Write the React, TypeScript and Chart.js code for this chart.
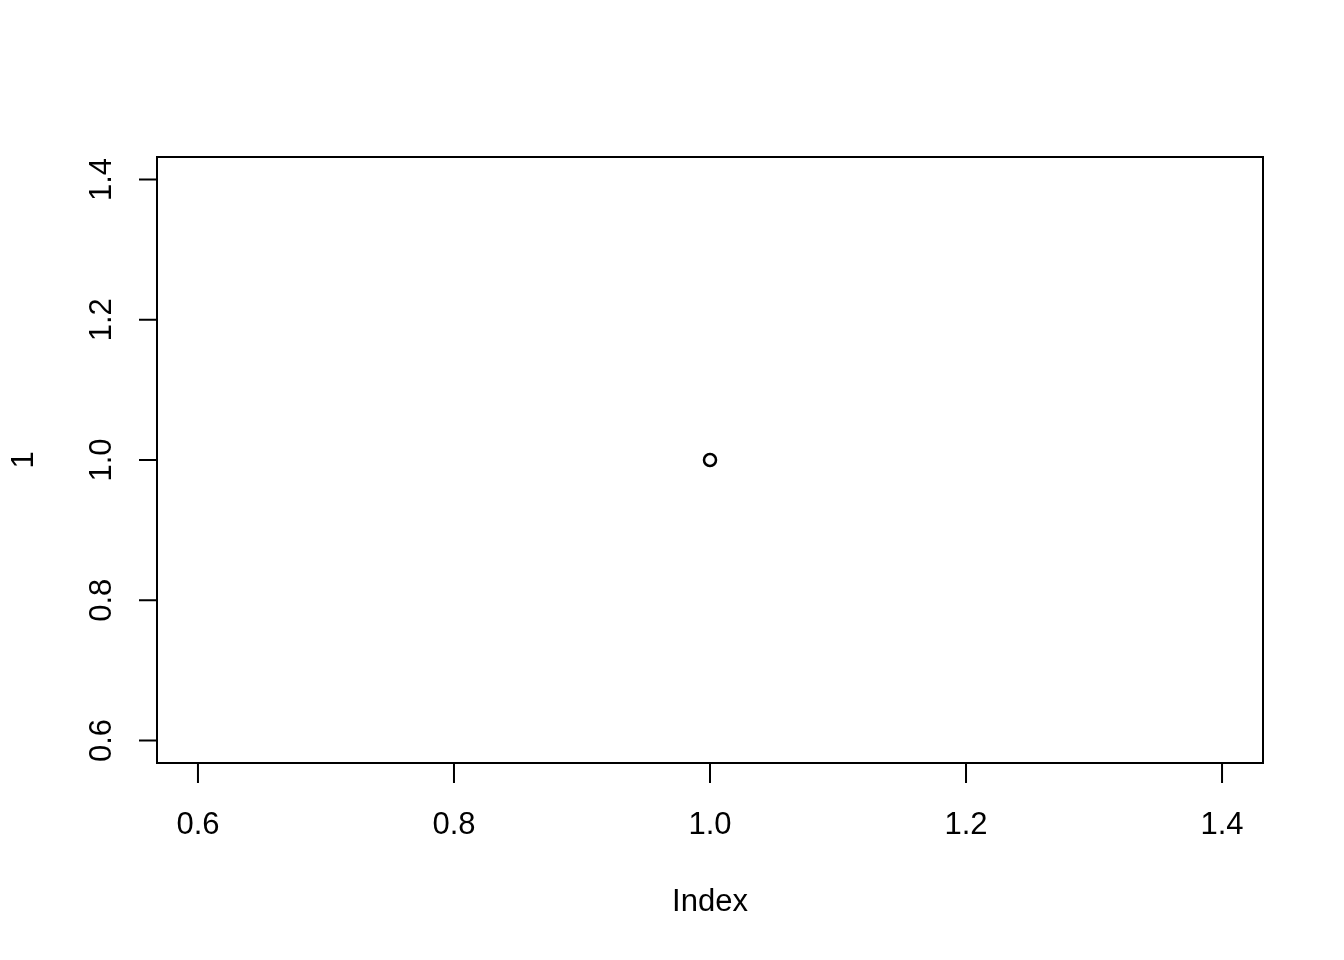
import React, { useEffect, useRef } from "react";
import { Chart, registerables } from "chart.js";

Chart.register(...registerables);

const xValues = [1];
const yValues = [1];
const xTicks = [0.6, 0.8, 1.0, 1.2, 1.4];
const yTicks = [0.6, 0.8, 1.0, 1.2, 1.4];
const xTitle = "Index";
const yTitle = "1";

const FONT = "31px 'Liberation Sans', Arial, sans-serif";

const rAxesPlugin = {
  id: "rAxes",
  afterDraw(chart: any) {
    const { ctx, chartArea, scales } = chart;
    const xs = scales.x;
    const ys = scales.y;
    ctx.save();
    ctx.strokeStyle = "#000";
    ctx.fillStyle = "#000";
    ctx.lineWidth = 2;
    ctx.strokeRect(chartArea.left, chartArea.top, chartArea.right - chartArea.left, chartArea.bottom - chartArea.top);
    ctx.font = FONT;
    ctx.beginPath();
    const x0 = xs.getPixelForValue(xTicks[0]);
    const x1 = xs.getPixelForValue(xTicks[xTicks.length - 1]);
    ctx.moveTo(x0, chartArea.bottom);
    ctx.lineTo(x1, chartArea.bottom);
    xTicks.forEach((t) => {
      const px = xs.getPixelForValue(t);
      ctx.moveTo(px, chartArea.bottom);
      ctx.lineTo(px, chartArea.bottom + 20);
    });
    ctx.stroke();
    ctx.textAlign = "center";
    ctx.textBaseline = "middle";
    xTicks.forEach((t) => {
      const px = xs.getPixelForValue(t);
      ctx.fillText(t.toFixed(1), px, 825);
    });
    ctx.fillText(xTitle, (chartArea.left + chartArea.right) / 2, 902);
    ctx.beginPath();
    const y0 = ys.getPixelForValue(yTicks[0]);
    const y1 = ys.getPixelForValue(yTicks[yTicks.length - 1]);
    ctx.moveTo(chartArea.left, y0);
    ctx.lineTo(chartArea.left, y1);
    yTicks.forEach((t) => {
      const py = ys.getPixelForValue(t);
      ctx.moveTo(chartArea.left, py);
      ctx.lineTo(chartArea.left - 18, py);
    });
    ctx.stroke();
    yTicks.forEach((t) => {
      const py = ys.getPixelForValue(t);
      ctx.save();
      ctx.translate(102, py);
      ctx.rotate(-Math.PI / 2);
      ctx.fillText(t.toFixed(1), 0, 0);
      ctx.restore();
    });
    ctx.save();
    ctx.translate(24, (chartArea.top + chartArea.bottom) / 2);
    ctx.rotate(-Math.PI / 2);
    ctx.fillText(yTitle, 0, 0);
    ctx.restore();
    ctx.restore();
  },
};

export default function App() {
  const ref = useRef<HTMLCanvasElement | null>(null);
  useEffect(() => {
    if (!ref.current) return;
    const chart = new Chart(ref.current, {
      type: "scatter",
      data: {
        datasets: [
          {
            data: xValues.map((x, i) => ({ x, y: yValues[i] })),
            pointRadius: 6,
            pointBorderWidth: 2.5,
            pointBorderColor: "#000",
            pointBackgroundColor: "rgba(0,0,0,0)",
            showLine: false,
          },
        ],
      },
      options: {
        responsive: false,
        animation: false,
        layout: { padding: { left: 157, top: 157, right: 81, bottom: 197 } },
        plugins: { legend: { display: false }, tooltip: { enabled: false } },
        scales: {
          x: { type: "linear", min: 0.568, max: 1.432, display: false },
          y: { type: "linear", min: 0.568, max: 1.432, display: false },
        },
      },
      plugins: [rAxesPlugin],
    });
    return () => chart.destroy();
  }, []);
  return (
    <div style={{ position: "fixed", left: 0, top: 0, width: 1344, height: 960, background: "#fff" }}>
      <canvas ref={ref} width={1344} height={960} style={{ width: 1344, height: 960 }} />
    </div>
  );
}
